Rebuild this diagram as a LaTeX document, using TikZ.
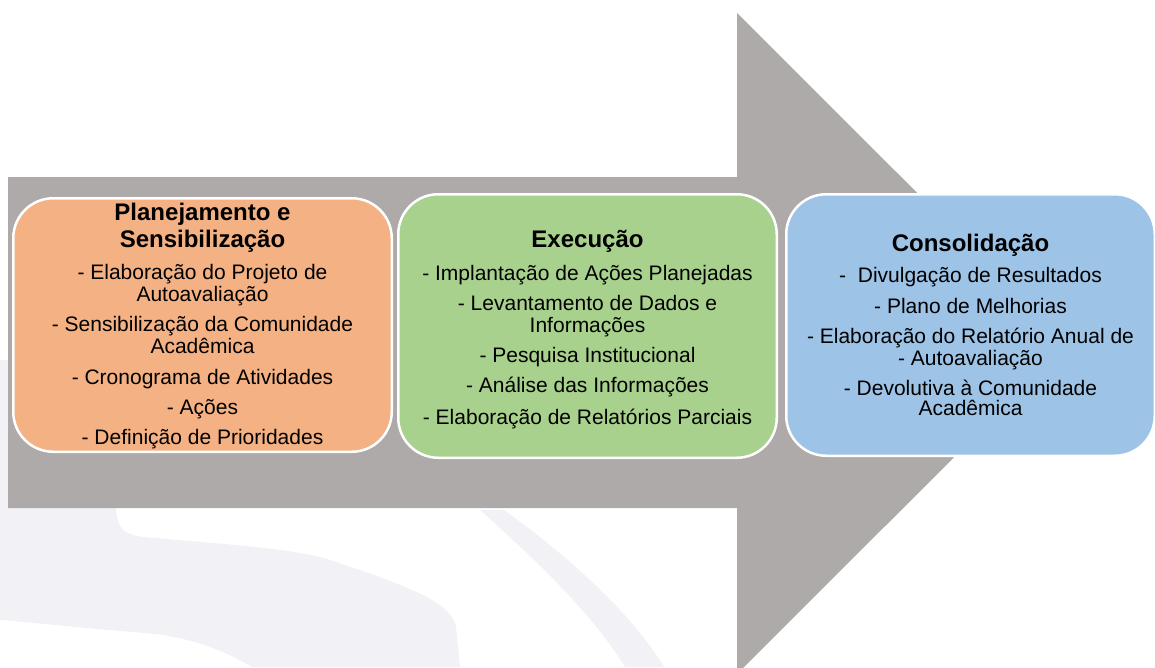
\documentclass[tikz,border=0pt]{standalone}
\usepackage{fontspec}
\setmainfont{Liberation Sans}
\definecolor{arrowgray}{RGB}{174,170,170}
\definecolor{boxorange}{RGB}{244,177,131}
\definecolor{boxgreen}{RGB}{169,209,142}
\definecolor{boxblue}{RGB}{157,195,230}
\definecolor{wmark}{RGB}{242,241,246}
\newcommand{\ttl}[1]{{\fontsize{24}{25}\selectfont\bfseries #1}}
\tikzset{
  phasebox/.style={draw=white, line width=2.5pt, rounded corners=40pt,
    inner sep=0pt},
  phasetext/.style={align=center, inner sep=0pt, text=black,
    font=\fontsize{21}{22}\selectfont},
}
\begin{document}
\begin{tikzpicture}[x=1pt,y=-1pt]
\useasboundingbox (0,0) rectangle (1155,667);
\clip (0,0) rectangle (1155,667);
% faint watermark
\fill[wmark] (0,360) -- (116,360) -- (116,510)
  .. controls (118,530) and (125,535) .. (145,537)
  .. controls (230,545) and (300,548) .. (339,563)
  .. controls (420,590) and (452,605) .. (456,627)
  -- (460,667) -- (252,667)
  .. controls (215,645) and (180,636) .. (145,633)
  .. controls (80,628) and (30,622) .. (0,620) -- cycle;
\fill[wmark] (480,510) .. controls (530,555) and (590,610) .. (625,667)
  -- (664,667) .. controls (630,610) and (560,550) .. (504,510) -- cycle;
% arrow
\fill[arrowgray] (8,177) -- (737,177) -- (737,13) -- (1068,343.5)
  -- (737,674) -- (737,508) -- (8,508) -- cycle;
% boxes
\node[phasebox, fill=boxorange, minimum width=378.5pt, minimum height=253.5pt]
  (b1) at (202.5,325) {};
\node[phasebox, fill=boxgreen, minimum width=378.5pt, minimum height=263.5pt]
  (b2) at (587.5,326) {};
\node[phasebox, fill=boxblue, minimum width=368.5pt, minimum height=261.5pt]
  (b3) at (970.5,325) {};
% texts
\node[phasetext] (t1) at (202.5,326) {%
  \ttl{Planejamento e}\\[3pt]
  \ttl{Sensibilização}\\[10pt]
  - Elaboração do Projeto de\\
  Autoavaliação\\[8pt]
  - Sensibilização da Comunidade\\
  Acadêmica\\[9pt]
  - Cronograma de Atividades\\[8pt]
  - Ações\\[8pt]
  - Definição de Prioridades};
\node[phasetext] (t2) at (587.5,330) {%
  \ttl{Execução}\\[11pt]
  - Implantação de Ações Planejadas\\[8pt]
  - Levantamento de Dados e\\
  Informações\\[8pt]
  - Pesquisa Institucional\\[8pt]
  - Análise das Informações\\[10pt]
  - Elaboração de Relatórios Parciais};
\node[phasetext] (t3) at (970.5,325) {%
  \ttl{Consolidação}\\[9pt]
  -\ \ Divulgação de Resultados\\[9pt]
  - Plano de Melhorias\\[8pt]
  - Elaboração do Relatório Anual de\\
  - Autoavaliação\\[8pt]
  - Devolutiva à Comunidade\\[-2pt]
  Acadêmica};
\end{tikzpicture}
\end{document}
